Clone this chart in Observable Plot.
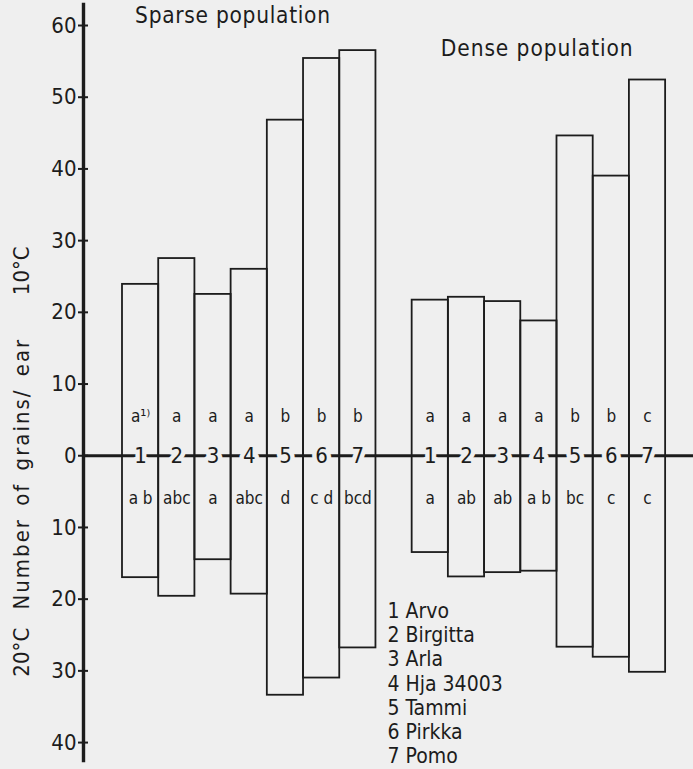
<!DOCTYPE html>
<html>
<head>
<meta charset="utf-8">
<script src="https://cdn.jsdelivr.net/npm/d3@7"></script>
<script src="https://cdn.jsdelivr.net/npm/@observablehq/plot@0.6"></script>
<style>
  html, body { margin: 0; padding: 0; background: #efefef; }
  #chart svg { display: block; background: #efefef; }
</style>
</head>
<body>
<div id="chart"></div>
<script>
// ---- data ----
const populations = ["Sparse population", "Dense population"];
const cultivars = ["Arvo", "Birgitta", "Arla", "Hja 34003", "Tammi", "Pirkka", "Pomo"];
const cultivarNumbers = [1, 2, 3, 4, 5, 6, 7];
// grains per ear at 10°C (upwards) and 20°C (downwards)
const sparse10 = [23.9, 27.5, 22.5, 26.0, 46.8, 55.4, 56.5];
const sparse20 = [17.0, 19.6, 14.5, 19.3, 33.4, 31.0, 26.8];
const dense10 = [21.7, 22.1, 21.5, 18.8, 44.6, 39.0, 52.4];
const dense20 = [13.5, 16.9, 16.3, 16.1, 26.7, 28.1, 30.2];
// significance letters
const sparse10Letters = ["a\u00B9\u207E", "a", "a", "a", "b", "b", "b"];
const sparse20Letters = ["a b", "abc", "a", "abc", "d", "c d", "bcd"];
const dense10Letters = ["a", "a", "a", "a", "b", "b", "c"];
const dense20Letters = ["a", "ab", "ab", "a b", "bc", "c", "c"];
const yTicks = [-40, -30, -20, -10, 0, 10, 20, 30, 40, 50, 60];
const yTitleParts = ["10°C", "Number of grains/ ear", "20°C"];

// ---- build table ----
const groups = [
  {name: populations[0], hi: sparse10, lo: sparse20, hiL: sparse10Letters, loL: sparse20Letters},
  {name: populations[1], hi: dense10, lo: dense20, hiL: dense10Letters, loL: dense20Letters}
];
const bars = [];
groups.forEach((g, gi) => {
  cultivarNumbers.forEach((n, i) => {
    bars.push({group: g.name, num: n, slot: gi * 8 + i, hi: g.hi[i], lo: g.lo[i], hiL: g.hiL[i], loL: g.loL[i]});
  });
});

const ink = "#1c1c1c";
const bg = "#efefef";
const font = "'DejaVu Sans Condensed', 'DejaVu Sans', sans-serif";

const chart = Plot.plot({
  width: 693,
  height: 769,
  marginLeft: 83,
  marginRight: 0,
  marginTop: 4,
  marginBottom: 9,
  style: {fontFamily: font, color: ink, background: bg},
  x: {type: "linear", domain: [-1.077, 15.77], axis: null},
  y: {domain: [-42.5, 62.93], axis: null},
  marks: [
    // bars
    Plot.rect(bars, {
      x1: d => d.slot, x2: d => d.slot + 1,
      y1: d => -d.lo, y2: d => d.hi,
      fill: "none", stroke: ink, strokeWidth: 1.8
    }),
    // zero line
    Plot.ruleY([0], {stroke: ink, strokeWidth: 3}),
    // y axis line
    Plot.frame({anchor: "left", stroke: ink, strokeWidth: 3.4}),
    // y axis ticks & labels
    Plot.axisY(yTicks, {
      tickSize: 10, dx: 5, tickPadding: 2,
      tickFormat: d => Math.abs(d),
      fontSize: 22, stroke: ink, strokeWidth: 2, fill: ink
    }),
    // cultivar numbers on zero line (with halo to break the line)
    Plot.text(bars, {
      x: d => d.slot + 0.5, y: 0, text: d => String(d.num),
      fontSize: 22, fill: ink, stroke: bg, strokeWidth: 9, lineAnchor: "middle"
    }),
    // significance letters
    Plot.text(bars, {
      x: d => d.slot + 0.5, y: 5.4, text: d => d.hiL,
      fontSize: 17, fill: ink, lineAnchor: "middle"
    }),
    Plot.text(bars, {
      x: d => d.slot + 0.5, y: -5.9, text: d => d.loL,
      fontSize: 17, fill: ink, lineAnchor: "middle"
    }),
    // population titles
    Plot.text(groups, {
      x: (d, i) => i === 0 ? 3.04 : 11.44,
      y: (d, i) => i === 0 ? 60.3 : 55.8,
      text: d => d.name,
      fontSize: 22.5, fill: ink, lineAnchor: "bottom"
    }),
    // legend of cultivars
    Plot.text([cultivars.map((c, i) => `${cultivarNumbers[i]} ${c}`).join("\n")], {
      x: 7.32, y: -20.2, text: d => d,
      textAnchor: "start", lineAnchor: "top", lineHeight: 1.155,
      fontSize: 21, fill: ink
    }),
    // y axis title (rotated)
    Plot.text(yTitleParts, {
      frameAnchor: "left", dx: -62,
      y: (d, i) => [25.8, -2.5, -27.4][i],
      text: d => d, rotate: -90,
      fontSize: 22, fill: ink, lineAnchor: "middle", textAnchor: "middle"
    })
  ]
});

// spaced-out lettering as in the original figure
const stretch = {"Sparse population": 195, "Dense population": 192};
d3.select(chart).selectAll("text").each(function () {
  const t = this.textContent;
  if (this.childElementCount !== 0) return;
  if (stretch[t]) {
    d3.select(this).attr("textLength", stretch[t]).attr("lengthAdjust", "spacing");
  }
  if (t === "Number of grains/ ear") {
    d3.select(this)
      .style("letter-spacing", "2px")
      .style("word-spacing", "4px");
  }
});

document.getElementById("chart").appendChild(chart);
</script>
</body>
</html>
